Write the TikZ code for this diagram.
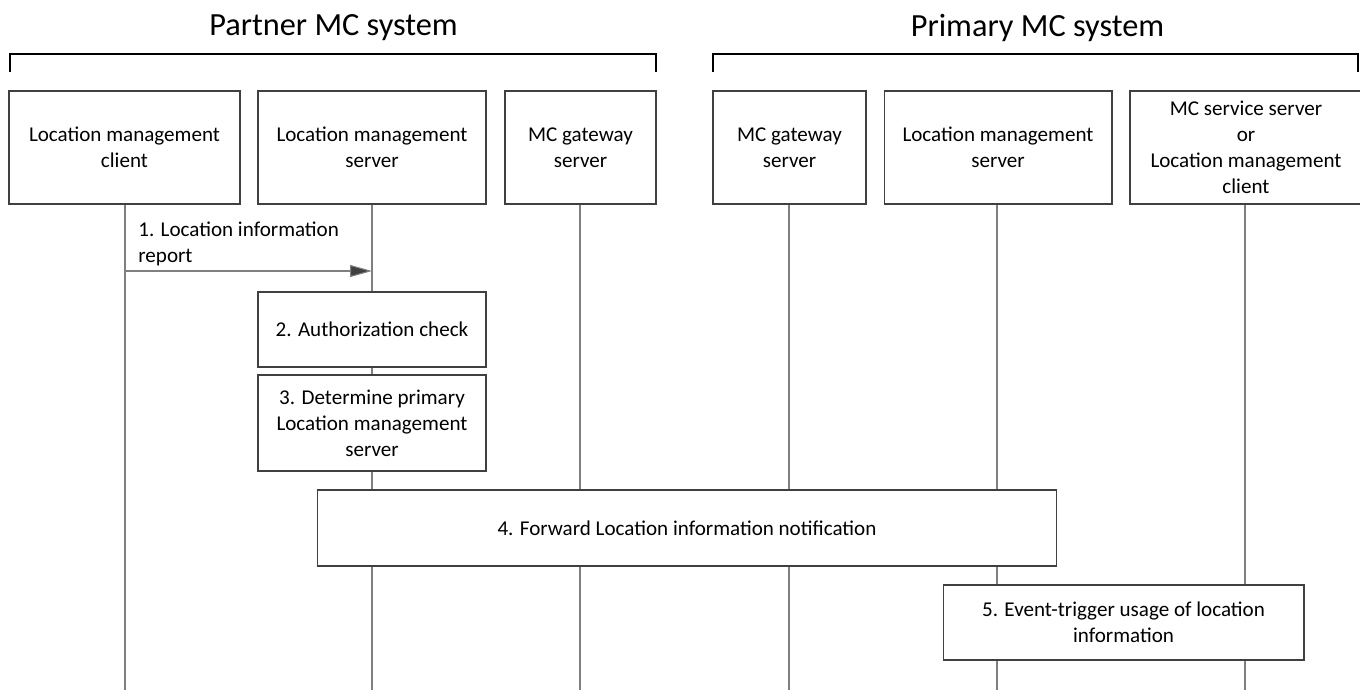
\documentclass[tikz,border=0pt]{standalone}
\usepackage{fontspec}
\setmainfont{Carlito}
\usepackage{tikz}
\usetikzlibrary{arrows.meta}
\definecolor{boxline}{HTML}{404040}
\definecolor{lifegray}{HTML}{7F7F7F}
\tikzset{
  every picture/.style={line join=miter, >=Stealth},
  actor/.style={draw=boxline, line width=0.6pt, fill=white, align=center, inner sep=2pt,
    minimum height=2.26cm, font=\fontsize{12}{14.7}\selectfont},
  stepbox/.style={draw=boxline, line width=0.6pt, fill=white, align=center, inner sep=2pt,
    font=\fontsize{12}{14.7}\selectfont},
  lifeline/.style={draw=lifegray, line width=0.6pt},
  msg/.style={draw=lifegray, line width=0.6pt, -{Triangle[length=0.44cm,width=0.24cm,fill=boxline]}},
  bracket/.style={draw=black, line width=1.1pt},
  sysname/.style={font=\fontsize{18.4}{22}\selectfont, inner sep=0pt},
}

\begin{document}
\begin{tikzpicture}[x=0.02cm,y=-0.02cm]
\useasboundingbox (0,0) rectangle (1360,690);
% system headings
\node[sysname] (partner) at (333.5,28) {Partner MC system};
\node[sysname] (primary) at (1037.5,28) {Primary MC system};
\draw[bracket] (10,72) -- (10,54) -- (656,54) -- (656,72);
\draw[bracket] (713,72) -- (713,54) -- (1358,54) -- (1358,72);
% entities
\node[actor, minimum width=4.62cm] (lmc) at (124.5,147.5) {Location management\\client};
\node[actor, minimum width=4.56cm] (lmsA) at (372,147.5) {Location management\\server};
\node[actor, minimum width=3.02cm] (gwA) at (580.5,147.5) {MC gateway\\server};
\node[actor, minimum width=3.06cm] (gwB) at (789.5,147.5) {MC gateway\\server};
\node[actor, minimum width=4.56cm] (lmsB) at (998,147.5) {Location management\\server};
% last box runs off the page edge
\draw[draw=boxline, line width=0.6pt] (1130,91) rectangle (1420,204);
\node[actor, draw=none, fill=none] (mcs) at (1246,147.5) {MC service server\\or\\Location management\\client};
% lifelines
\coordinate (lmcEnd) at (125,690);
\coordinate (lmsAEnd) at (372,690);
\coordinate (gwAEnd) at (580,690);
\coordinate (gwBEnd) at (789,690);
\coordinate (lmsBEnd) at (997,690);
\coordinate (mcsEnd) at (1245,690);
\draw[lifeline] (lmc.south -| lmcEnd) -- (lmcEnd);
\draw[lifeline] (lmsA.south -| lmsAEnd) -- (lmsAEnd);
\draw[lifeline] (gwA.south -| gwAEnd) -- (gwAEnd);
\draw[lifeline] (gwB.south -| gwBEnd) -- (gwBEnd);
\draw[lifeline] (lmsB.south -| lmsBEnd) -- (lmsBEnd);
\draw[lifeline] (mcs.south -| mcsEnd) -- (mcsEnd);
% 1. report
\coordinate (m1s) at (125,271);
\coordinate (m1e) at (372,271);
\draw[msg] (m1s) -- (m1e);
\node[anchor=south west, align=left, inner sep=0pt, font=\fontsize{12}{14.7}\selectfont] (m1label) at (138,266) {1. Location information\\report};
% steps
\node[stepbox, minimum width=4.56cm, minimum height=1.5cm] (authcheck) at (372,329.5) {2. Authorization check};
\node[stepbox, minimum width=4.56cm, minimum height=1.92cm] (determine) at (372,423) {3. Determine primary\\Location management\\server};
\node[stepbox, minimum width=14.8cm, minimum height=1.52cm] (forward) at (687,528) {4. Forward Location information notification};
\node[stepbox, minimum width=7.22cm, minimum height=1.5cm] (usage) at (1123.5,622.5) {5. Event-trigger usage of location\\information};
\end{tikzpicture}
\end{document}
